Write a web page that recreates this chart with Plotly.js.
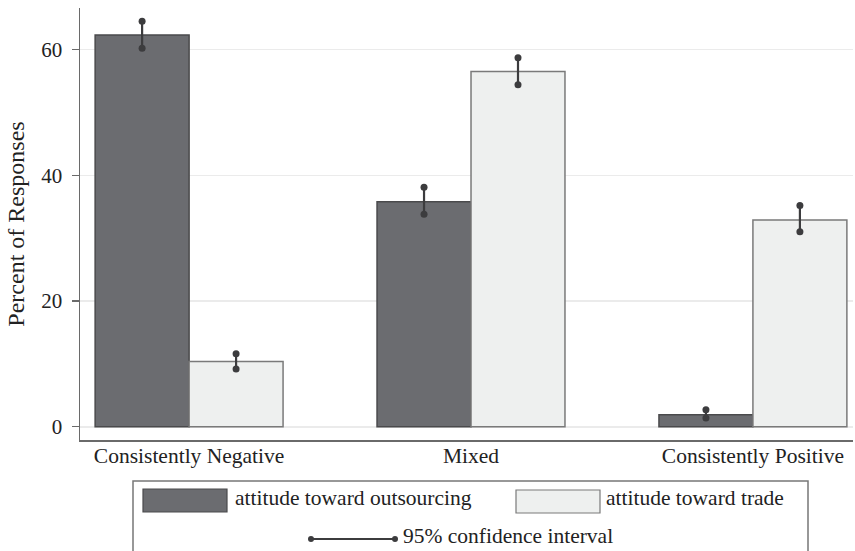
<!DOCTYPE html>
<html>
<head>
<meta charset="utf-8">
<script src="https://cdn.plot.ly/plotly-3.0.1.min.js"></script>
<style>html,body{margin:0;padding:0;background:#fff;}#chart{width:855px;height:551px;}</style>
</head>
<body>
<div id="chart"></div>
<script>
// ---- data ----
var categories = ["Consistently Negative", "Mixed", "Consistently Positive"];
var outsourcingPct = [62.3, 35.8, 1.9];
var outsourcingLo  = [60.2, 33.8, 1.4];
var outsourcingHi  = [64.5, 38.1, 2.7];
var tradePct = [10.4, 56.5, 32.9];
var tradeLo  = [9.2, 54.4, 31.0];
var tradeHi  = [11.6, 58.7, 35.2];
var seriesNames = ["attitude toward outsourcing", "attitude toward trade", "95% confidence interval"];
var yTicks = [0, 20, 40, 60];

// ---- styling ----
var FONT = "Liberation Serif, Times New Roman, serif";
var darkFill = "#6b6c70", darkLine = "#4a4a4c";
var lightFill = "#eef0ef", lightLine = "#7a7a7a";
var ciColor = "#3c3c3e";
var W = 855, H = 551;
var M = {l: 80, r: 2, t: 8, b: 111};
var BW = 1/3; // bar width in category units

var idx = categories.map(function(_, i){ return i; });

function ciTrace(offset, lo, hi) {
  var xs = [], ys = [];
  idx.forEach(function(i){
    xs.push(i + offset, i + offset, null);
    ys.push(lo[i], hi[i], null);
  });
  return {
    type: "scatter", mode: "lines+markers", x: xs, y: ys,
    line: {color: ciColor, width: 2.2},
    marker: {color: ciColor, size: 7},
    showlegend: false, hoverinfo: "skip", name: seriesNames[2]
  };
}

var traces = [
  {type: "bar", name: seriesNames[0], x: idx, y: outsourcingPct,
   width: BW, offset: -BW,
   marker: {color: darkFill, line: {color: darkLine, width: 1.5}}, showlegend: false},
  {type: "bar", name: seriesNames[1], x: idx, y: tradePct,
   width: BW, offset: 0,
   marker: {color: lightFill, line: {color: lightLine, width: 1.5}}, showlegend: false},
  ciTrace(-BW/2, outsourcingLo, outsourcingHi),
  ciTrace(BW/2, tradeLo, tradeHi)
];

// pixel -> paper helpers for the hand-built legend
var pw = W - M.l - M.r, ph = H - M.t - M.b;
function px(x){ return (x - M.l) / pw; }
function py(y){ return (H - M.b - y) / ph; }

var shapes = [
  {type: "path", xref: "paper", yref: "paper",
   path: "M " + px(133) + "," + py(560) + " L " + px(133) + "," + py(481) + " L " + px(808) + "," + py(481) + " L " + px(808) + "," + py(560),
   line: {color: "#777", width: 1.5}},
  {type: "rect", xref: "paper", yref: "paper", x0: px(143), x1: px(227), y0: py(512), y1: py(489),
   fillcolor: darkFill, line: {color: darkLine, width: 1.2}},
  {type: "rect", xref: "paper", yref: "paper", x0: px(516), x1: px(600), y0: py(513), y1: py(490),
   fillcolor: lightFill, line: {color: lightLine, width: 1.2}},
  {type: "line", xref: "paper", yref: "paper", x0: px(311), x1: px(395), y0: py(539), y1: py(539),
   line: {color: ciColor, width: 2}},
  {type: "circle", xref: "paper", yref: "paper", x0: px(308), x1: px(314), y0: py(542), y1: py(536),
   fillcolor: ciColor, line: {width: 0}},
  {type: "circle", xref: "paper", yref: "paper", x0: px(392), x1: px(398), y0: py(542), y1: py(536),
   fillcolor: ciColor, line: {width: 0}}
];

var LF = {family: FONT, size: 21.5, color: "#222"};
var annotations = [
  {xref: "paper", yref: "paper", x: px(233), y: py(498), xanchor: "left", yanchor: "middle",
   text: seriesNames[0], showarrow: false, font: LF},
  {xref: "paper", yref: "paper", x: px(604), y: py(498), xanchor: "left", yanchor: "middle",
   text: seriesNames[1], showarrow: false, font: LF},
  {xref: "paper", yref: "paper", x: px(401), y: py(536), xanchor: "left", yanchor: "middle",
   text: seriesNames[2], showarrow: false, font: LF}
];

var layout = {
  width: W, height: H,
  margin: M,
  paper_bgcolor: "#fff", plot_bgcolor: "#fff",
  font: {family: FONT, size: 21, color: "#222"},
  showlegend: false,
  barmode: "overlay",
  xaxis: {
    range: [-0.387, 2.355],
    tickvals: idx, ticktext: categories,
    showgrid: false, zeroline: false,
    showline: true, linecolor: "#6a6a6a", linewidth: 1.5,
    ticks: "", ticklabelstandoff: -4,
    tickfont: {family: FONT, size: 21.5, color: "#222"},
    fixedrange: true
  },
  yaxis: {
    range: [-2.1, 66.6],
    tickvals: yTicks,
    showgrid: true, gridcolor: "#ebebeb", gridwidth: 1.5,
    zeroline: false,
    showline: true, linecolor: "#6a6a6a", linewidth: 1.5,
    ticks: "outside", ticklen: 7, tickcolor: "#6a6a6a", tickwidth: 1.2,
    ticklabelstandoff: 5,
    tickfont: {family: FONT, size: 21, color: "#222"},
    title: {text: "Percent of Responses", font: {family: FONT, size: 24, color: "#222"}, standoff: 10},
    fixedrange: true
  },
  shapes: shapes,
  annotations: annotations
};

Plotly.newPlot("chart", traces, layout, {staticPlot: true});
</script>
</body>
</html>
